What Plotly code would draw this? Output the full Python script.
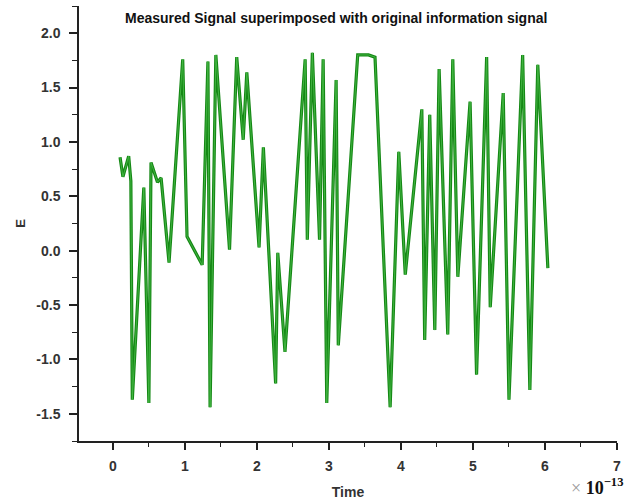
import plotly.graph_objects as go

# Time in units of 1e-13 s
time = [0.10, 0.14, 0.22, 0.25, 0.27, 0.43, 0.50, 0.53, 0.62, 0.67, 0.78, 0.97,
        1.03, 1.24, 1.32, 1.35, 1.43, 1.62, 1.72, 1.81, 1.86, 2.03, 2.09, 2.26,
        2.29, 2.39, 2.67, 2.70, 2.77, 2.87, 2.92, 2.97, 3.10, 3.13, 3.40, 3.55,
        3.64, 3.85, 3.97, 4.06, 4.29, 4.33, 4.40, 4.47, 4.53, 4.65, 4.72, 4.79,
        4.96, 5.05, 5.19, 5.24, 5.42, 5.50, 5.69, 5.79, 5.90, 6.04]
e_vals = [0.86, 0.68, 0.87, 0.64, -1.37, 0.58, -1.40, 0.81, 0.63, 0.67, -0.11, 1.76,
          0.13, -0.13, 1.74, -1.44, 1.80, 0.01, 1.78, 1.02, 1.64, 0.03, 0.95, -1.22,
          -0.02, -0.93, 1.76, 0.10, 1.82, 0.10, 1.76, -1.40, 1.57, -0.87, 1.80, 1.80,
          1.78, -1.44, 0.91, -0.22, 1.30, -0.82, 1.25, -0.73, 1.67, -0.77, 1.76, -0.24,
          1.37, -1.14, 1.78, -0.52, 1.45, -1.37, 1.80, -1.28, 1.71, -0.16]

x_ticks = [0, 1, 2, 3, 4, 5, 6, 7]
y_ticks = [-1.5, -1.0, -0.5, 0.0, 0.5, 1.0, 1.5, 2.0]

fig = go.Figure()
fig.add_trace(go.Scatter(x=time, y=e_vals, mode="lines",
                         line=dict(color="#158815", width=3.2), hoverinfo="skip"))
fig.add_trace(go.Scatter(x=time, y=e_vals, mode="lines",
                         line=dict(color="#45b845", width=0.9)))

tickfont = dict(family="Liberation Sans, Arial", size=14, color="#333")
fig.update_layout(
    width=633, height=502,
    margin=dict(l=79, r=16, t=6, b=61),
    paper_bgcolor="white", plot_bgcolor="white",
    showlegend=False,
    xaxis=dict(range=[-0.47, 7.0], tickvals=x_ticks, ticktext=[f"<b>{v}</b>" for v in x_ticks],
               automargin=False,
               showgrid=False, zeroline=False, showline=True, linecolor="#222", linewidth=1.5,
               ticks="outside", ticklen=7, tickwidth=1.5, tickcolor="#222", tickfont=tickfont,
               ticklabelstandoff=4,
               minor=dict(dtick=0.5, tick0=0, ticks="outside", ticklen=4, tickwidth=1.2, tickcolor="#222"),
               title=dict(text="<b>Time</b>", font=dict(family="Liberation Sans, Arial", size=14, color="#333"),
                          standoff=15)),
    yaxis=dict(range=[-1.75, 2.25], tickvals=y_ticks, ticktext=[f"<b>{v:.1f}</b>" for v in y_ticks],
               automargin=False,
               showgrid=False, zeroline=False, showline=True, linecolor="#222", linewidth=1.5,
               ticks="outside", ticklen=8, tickwidth=1.5, tickcolor="#222", tickfont=tickfont,
               ticklabelstandoff=6,
               minor=dict(dtick=0.25, tick0=0, ticks="outside", ticklen=5, tickwidth=1.2, tickcolor="#222"),
               title=dict(text="<b>E</b>", font=dict(family="Liberation Sans, Arial", size=13, color="#333"),
                          standoff=8)),
)

fig.add_annotation(text="<b>Measured Signal superimposed with original information signal</b>",
                   xref="paper", yref="paper", x=0.082, y=0.972, xanchor="left", yanchor="middle",
                   showarrow=False,
                   font=dict(family="Liberation Sans Narrow, Arial Narrow, Liberation Sans", size=14, color="#111"))
fig.add_annotation(text="<span style='color:#999'>×</span> <b>10</b><sup><b>−13</b></sup>",
                   xref="paper", yref="paper", x=1.015, y=-0.105, xanchor="right", yanchor="middle",
                   showarrow=False,
                   font=dict(family="Liberation Serif, Times New Roman", size=18, color="#111"))

fig.write_html("out.html")
